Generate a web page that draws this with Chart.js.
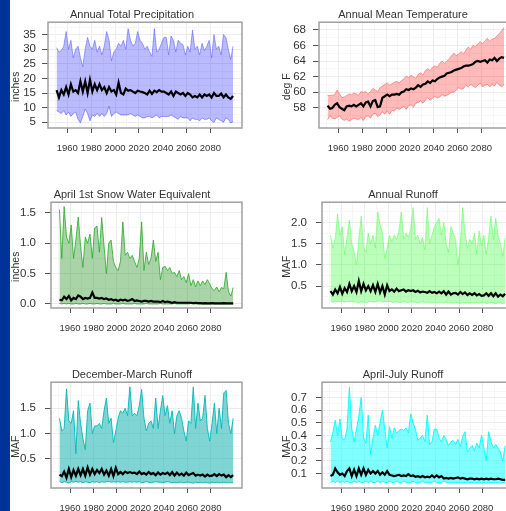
<!DOCTYPE html>
<html>
<head>
<meta charset="utf-8">
<title>Climate projections</title>
<script src="https://cdn.jsdelivr.net/npm/chart.js@4"></script>
<style>
	html, body { margin: 0; padding: 0; width: 506px; height: 511px; overflow: hidden; background: #fff; }
	#strip { position: absolute; left: 0; top: 0; width: 10px; height: 511px; background: #003399; }
	canvas { position: absolute; }
</style>
</head>
<body>
<div id="strip"></div>
<canvas id="precip" width="264" height="159" style="left:0;top:0"></canvas>
<canvas id="temp" width="264" height="159" style="left:271px;top:0"></canvas>
<canvas id="snow" width="264" height="159" style="left:0;top:180px"></canvas>
<canvas id="annual" width="264" height="159" style="left:271px;top:180px"></canvas>
<canvas id="decmar" width="264" height="159" style="left:0;top:360px"></canvas>
<canvas id="aprjul" width="264" height="159" style="left:271px;top:360px"></canvas>
<script>
const years = [
	1951,1953,1955,1957,1959,1961,1963,1965,1967,1969,1971,1973,1975,1977,1979,
	1981,1983,1985,1987,1989,1991,1993,1995,1997,1999,2001,2003,2005,2007,2009,
	2011,2013,2015,2017,2019,2021,2023,2025,2027,2029,2031,2033,2035,2037,2039,
	2041,2043,2045,2047,2049,2051,2053,2055,2057,2059,2061,2063,2065,2067,2069,
	2071,2073,2075,2077,2079,2081,2083,2085,2087,2089,2091,2093,2095,2097,2099
];
const xLabels = [1960,1980,2000,2020,2040,2060,2080];
const xMinor = [1950,1970,1990,2010,2030,2050,2070,2090];

// Annual Total Precipitation
const precipHigh = [
	30.5,29,29.5,31,36,30,33,27,30,31,27,24,30,34,31,
	30,33,29,31,28,31,36,33,26,29,30,32,31,33,30,
	37,33,31,32,36,33,32,30,31,29,27.5,37,29,30,32,
	34,34,28,34.5,33,29,33,32,31.5,28,31,29,36.5,30,31,
	28,32,29.5,31,33,27,35,30,31,28,35,34,30,26.5,31
];
const precipLow = [
	9,8.5,8,9,7.5,8.5,7,8,8.5,6,4.8,7,9.5,8,5.5,
	7.5,7,8,7,8,7,8,10.5,7,8,8.5,8,7.5,7.5,7.5,
	7.5,8,7.5,7,7.5,7,6.5,6.5,7,7,6.5,7,7.5,6.5,7,
	7,7,7,7.5,7,6.5,6,7,6.5,6.5,6.5,5.5,6.5,6,6,
	5.5,6.5,6,6,6.5,5.5,5,6.5,6,5.5,5,6.5,6,4.8,5.2
];
const precipMid = [
	16,13.5,16,14.5,17,14.5,18,15.5,16,15,19,15.5,19,15,19.5,
	15.5,18,16,18,16,17,15,17,15.5,16,14.5,18.5,15,14.5,16.5,
	15.8,16,15.5,15,15.8,15.5,15.3,15,14.5,15.8,14.7,15.8,15.3,16,15.5,
	15.5,15,14.5,15.5,14,15.5,15,14.5,15,14,15,14.5,13.5,14,13.5,
	14.5,13.5,14.5,14,14.5,13.5,15,14,14,14.8,13.5,14.5,13.5,13,14
];
const precipTicks = [5,10,15,20,25,30,35];
const precipMinor = [7.5,12.5,17.5,22.5,27.5,32.5,37.5];

// Annual Mean Temperature
const tempHigh = [
	59.6,59.6,59.6,59.7,60.3,59.8,59.3,59.4,59.6,59.8,59.7,59.9,59.8,59.6,60.1,
	60,60.1,59.8,60.1,60.5,60.3,60.1,60.6,60.8,61,61.2,60.9,61.1,61.3,61.4,
	61.2,61.5,61.7,62.1,61.9,62.2,62,61.8,62.3,62.5,62.2,62.8,63,62.8,63.2,
	63.4,63.2,63.7,64,63.7,64,64.3,64.7,65,64.7,64.9,65.2,64.9,65.4,65.8,
	65.5,66,65.8,66.2,66.5,66.2,66.6,66.9,66.5,66.8,66.9,67.2,67.5,67.9,68.3
];
const tempLow = [
	56.5,57,56.7,56.6,56.8,57,56.6,56.4,56.6,56.3,56.5,56.7,56.6,56.5,56.8,
	56.4,56.9,57,56.7,57.2,57.3,56.9,57.1,57.5,57.2,57.6,57.2,57.7,57.6,58,
	57.8,58,58.2,57.8,58.3,58.4,58.1,58.6,58.7,58.9,58.6,59,59.3,59,59.2,
	59.5,59.3,59.4,59.7,59.5,59.6,59.8,60,60,60.3,60.6,60.4,60.5,60.9,60.7,
	61,60.8,60.6,60.9,61.2,60.7,60.9,61,60.7,61,60.8,61.3,60.9,60.7,61
];
const tempMid = [
	58.3,57.9,58,58.4,58.6,58.1,57.9,57.7,58.2,58.3,58.2,58.4,58.2,58.4,58.6,
	58.2,58.7,58.8,58.2,58.9,59,58.1,58.2,59.3,59.5,59.7,59.5,59.7,59.7,59.8,
	59.7,60,60.1,60.4,60.3,60.5,60.4,60.6,60.9,60.7,61,61.1,61.4,61.2,61.5,
	61.4,61.7,61.9,62,62.1,62.4,62.5,62.6,62.8,62.9,63,63.1,63.3,63.4,63.4,
	63.5,63.6,63.9,64,63.9,64,64.1,63.8,64.2,64.1,64.4,64,64.3,64.5,64.4
];
const tempTicks = [58,60,62,64,66,68];
const tempMinor = [56,57,59,61,63,65,67];

// April 1st Snow Water Equivalent
const snowHigh = [
	1.55,0.75,1.6,1.1,1,1.3,0.75,1.05,1.43,0.95,0.6,1.1,1,1.15,0.75,
	1.25,1.28,0.85,1.42,0.95,0.5,1,1.05,0.7,0.6,0.55,0.7,1.35,0.8,0.85,
	0.75,0.8,0.7,0.6,0.75,1.35,0.55,0.85,0.65,0.75,1.05,0.7,0.85,0.4,0.6,
	0.62,0.55,0.6,0.5,0.52,0.45,0.55,0.4,0.45,0.35,0.5,0.3,0.4,0.28,0.38,
	0.3,0.38,0.32,0.4,0.33,0.25,0.22,0.28,0.2,0.27,0.25,0.52,0.2,0.13,0.27
];
const snowLow = [
	0.01,0,0.01,0,0.01,0,0,0.01,0,0,0.01,0,0,0.01,0,
	0,0.01,0,0,0.01,0,0,0,0.01,0,0,0,0.01,0,0,
	0,0,0.01,0,0,0,0,0.01,0,0,0,0,0,0.01,0,
	0,0,0,0,0.01,0,0,0,0,0,0,0.01,0,0,0,
	0,0,0,0,0,0.01,0,0,0,0,0,0,0,0,0
];
const snowMid = [
	0.07,0.06,0.12,0.08,0.13,0.06,0.1,0.08,0.14,0.12,0.08,0.1,0.09,0.1,0.19,
	0.1,0.1,0.09,0.1,0.08,0.09,0.07,0.08,0.06,0.07,0.05,0.07,0.06,0.07,0.05,
	0.06,0.08,0.05,0.06,0.05,0.04,0.05,0.05,0.04,0.05,0.04,0.04,0.04,0.03,0.05,
	0.03,0.04,0.03,0.02,0.03,0.02,0.02,0.02,0.02,0.02,0.02,0.02,0.015,0.02,0.015,
	0.015,0.01,0.015,0.01,0.01,0.015,0.01,0.01,0.01,0.01,0.015,0.01,0.01,0.01,0.01
];
const snowTicks = [0,0.5,1,1.5];
const snowMinor = [0.25,0.75,1.25];

// Annual Runoff
const annualHigh = [
	1.7,1.4,1.6,2.2,1.7,1.9,1.25,1.65,2.05,1.5,1.3,1,1.6,2.15,1.4,
	1.3,1.75,1.5,1.7,1.4,2.25,1.95,1.75,1.15,1.4,1.7,1.55,1.7,1.6,1.8,
	2.25,1.6,1.75,1.65,1.85,2.35,1.6,1.7,1.5,1.65,1.35,2.35,1.5,1.7,1.9,
	2,2.1,1.7,2,1.5,1.3,1.9,1.75,1.6,1,1.5,2.35,1.75,1.4,1.6,
	1.5,1.75,1.25,1.8,1.45,1.7,1.25,1.65,2.15,1.6,2.1,1.7,1.5,1.2,1.63
];
const annualLow = [
	0.14,0.12,0.14,0.13,0.13,0.15,0.12,0.14,0.13,0.14,0.12,0.13,0.1,0.13,0.12,
	0.11,0.13,0.14,0.12,0.13,0.14,0.15,0.12,0.14,0.13,0.14,0.12,0.12,0.13,0.11,
	0.12,0.13,0.12,0.11,0.13,0.12,0.12,0.11,0.12,0.13,0.11,0.12,0.12,0.11,0.12,
	0.11,0.12,0.12,0.11,0.12,0.11,0.12,0.1,0.12,0.11,0.09,0.11,0.1,0.11,0.1,
	0.11,0.1,0.11,0.1,0.1,0.11,0.09,0.1,0.11,0.1,0.09,0.1,0.1,0.09,0.1
];
const annualMid = [
	0.38,0.3,0.42,0.33,0.48,0.32,0.45,0.36,0.55,0.38,0.5,0.36,0.62,0.38,0.55,
	0.4,0.5,0.38,0.52,0.36,0.55,0.35,0.5,0.3,0.52,0.38,0.42,0.37,0.44,0.38,
	0.4,0.42,0.37,0.4,0.38,0.4,0.36,0.39,0.35,0.37,0.36,0.34,0.38,0.34,0.36,
	0.33,0.37,0.33,0.38,0.3,0.37,0.3,0.33,0.34,0.3,0.36,0.31,0.35,0.29,0.33,
	0.29,0.33,0.28,0.31,0.27,0.28,0.33,0.27,0.33,0.26,0.33,0.25,0.3,0.26,0.32
];
const annualTicks = [0.5,1,1.5,2];
const annualMinor = [0.25,0.75,1.25,1.75,2.25];

// December-March Runoff
const decmarHigh = [
	1.3,1.05,1.1,1.88,1.25,1.2,1.45,0.6,1.65,1.2,0.9,0.68,1.45,1.6,1,
	1.15,1.15,1.2,1.1,1.45,1.7,1.2,1.3,0.82,1.05,1.3,1.45,1.4,1.5,1.35,
	1.92,1.35,1.4,1.35,1.55,1.87,1.3,1.05,1.2,1.25,1.1,1.7,1.1,1.45,1.75,
	1.35,1.55,1.2,1.45,1,1.35,1.45,1.3,1.05,0.85,1.25,1.2,1.92,1.1,1.6,
	1.25,1.3,1.75,1.1,0.85,1.2,1.6,1,1.5,1.1,1.8,1.85,1.2,1,1.3
];
const decmarLow = [
	0.06,0.03,0.05,0.04,0.02,0.05,0.04,0.06,0.04,0.05,0.03,0.05,0.04,0.03,0.05,
	0.04,0.05,0.03,0.05,0.04,0.05,0.06,0.04,0.05,0.04,0.05,0.04,0.05,0.04,0.04,
	0.05,0.04,0.05,0.04,0.05,0.03,0.04,0.05,0.04,0.03,0.04,0.05,0.04,0.04,0.03,
	0.04,0.05,0.04,0.03,0.04,0.03,0.04,0.04,0.03,0.04,0.04,0.03,0.02,0.04,0.03,
	0.04,0.03,0.04,0.03,0.02,0.04,0.03,0.04,0.03,0.03,0.04,0.03,0.03,0.03,0.03
];
const decmarMid = [
	0.19,0.16,0.25,0.13,0.3,0.14,0.28,0.17,0.3,0.18,0.3,0.17,0.33,0.19,0.3,
	0.2,0.28,0.22,0.3,0.19,0.27,0.17,0.3,0.16,0.32,0.2,0.24,0.2,0.25,0.22,
	0.24,0.22,0.23,0.2,0.25,0.2,0.22,0.19,0.24,0.2,0.22,0.18,0.23,0.19,0.22,
	0.2,0.23,0.18,0.24,0.17,0.23,0.18,0.21,0.17,0.23,0.18,0.2,0.22,0.17,0.19,
	0.17,0.19,0.15,0.19,0.16,0.17,0.2,0.16,0.2,0.17,0.19,0.14,0.18,0.14,0.18
];
const decmarTicks = [0.5,1,1.5];
const decmarMinor = [0.25,0.75,1.25,1.75,2];

// April-July Runoff
const aprjulHigh = [
	0.35,0.42,0.52,0.4,0.53,0.37,0.37,0.45,0.78,0.45,0.35,0.45,0.55,0.7,0.38,
	0.34,0.56,0.25,0.38,0.48,0.4,0.5,0.6,0.45,0.3,0.47,0.38,0.46,0.42,0.44,
	0.45,0.44,0.46,0.42,0.57,0.5,0.45,0.36,0.38,0.4,0.35,0.56,0.33,0.35,0.45,
	0.45,0.38,0.35,0.4,0.37,0.32,0.35,0.36,0.33,0.37,0.31,0.39,0.43,0.27,0.3,
	0.32,0.28,0.34,0.3,0.4,0.3,0.2,0.43,0.35,0.3,0.33,0.3,0.27,0.2,0.32
];
const aprjulLow = [
	0.03,0.04,0.03,0.04,0.03,0.04,0.03,0.04,0.03,0.03,0.04,0.03,0.04,0.03,0.03,
	0.04,0.03,0.04,0.03,0.03,0.04,0.03,0.04,0.03,0.03,0.04,0.03,0.03,0.04,0.03,
	0.03,0.04,0.03,0.03,0.03,0.04,0.03,0.03,0.03,0.04,0.03,0.03,0.03,0.03,0.04,
	0.03,0.03,0.03,0.04,0.03,0.03,0.03,0.03,0.03,0.03,0.03,0.025,0.03,0.03,0.03,
	0.03,0.025,0.03,0.03,0.025,0.03,0.025,0.03,0.03,0.025,0.03,0.03,0.025,0.03,0.03
];
const aprjulMid = [
	0.08,0.09,0.14,0.11,0.09,0.1,0.08,0.12,0.14,0.08,0.13,0.08,0.14,0.09,0.14,
	0.09,0.13,0.1,0.12,0.1,0.12,0.09,0.11,0.09,0.12,0.09,0.085,0.08,0.085,0.09,
	0.08,0.085,0.08,0.095,0.08,0.085,0.075,0.08,0.07,0.08,0.07,0.075,0.07,0.085,0.07,
	0.085,0.07,0.08,0.06,0.065,0.06,0.065,0.06,0.065,0.07,0.06,0.065,0.06,0.055,0.06,
	0.06,0.055,0.06,0.055,0.06,0.055,0.06,0.055,0.06,0.055,0.055,0.06,0.055,0.05,0.05
];
const aprjulTicks = [0.1,0.2,0.3,0.4,0.5,0.6,0.7];
const aprjulMinor = [0.05,0.15,0.25,0.35,0.45,0.55,0.65,0.75];

const FONT = 'Liberation Sans, Arial, sans-serif';
const TEXT = '#333333';

// grey box round the plot area
const frame = {
	id: 'frame',
	afterLayout(chart) {
		// the title sits centred on the canvas, not on the box
		chart.titleBlock.left = chart.width - chart.chartArea.right;
	},
	afterDraw(chart) {
		const a = chart.chartArea;
		const ctx = chart.ctx;
		ctx.save();
		ctx.strokeStyle = '#a0a0a0';
		ctx.lineWidth = 1.5;
		ctx.strokeRect(a.left, a.top, a.right - a.left, a.bottom - a.top);
		ctx.restore();
	}
};

function points(values) {
	return values.map((v, i) => ({ x: years[i], y: v }));
}

function panel(id, p) {
	return new Chart(document.getElementById(id), {
		type: 'line',
		plugins: [frame],
		data: {
			datasets: [
				{
					// first dataset is painted on top
					data: points(p.mid),
					borderColor: '#000000',
					borderWidth: 2.2,
					pointRadius: 0,
					fill: false
				},
				{
					data: points(p.high),
					borderColor: p.line,
					backgroundColor: p.fill,
					borderWidth: 1,
					pointRadius: 0,
					fill: '+1'
				},
				{
					data: points(p.low),
					borderColor: p.line,
					borderWidth: 1,
					pointRadius: 0,
					fill: false
				}
			]
		},
		options: {
			responsive: false,
			animation: false,
			devicePixelRatio: 1,
			layout: { padding: { right: p.right } },
			plugins: {
				legend: { display: false },
				tooltip: { enabled: false },
				title: {
					display: true,
					text: p.title,
					color: TEXT,
					font: { family: FONT, size: 11, weight: 'normal' },
					padding: { top: 8, bottom: 1 }
				}
			},
			scales: {
				x: {
					type: 'linear',
					min: 1943.8,
					max: 2106.5,
					afterFit(s) { s.height = 31; },
					afterBuildTicks(s) {
						s.ticks = xLabels.concat(xMinor).map(v => ({ value: v }));
					},
					grid: {
						tickLength: 5,
						color: c => xLabels.includes(c.tick.value) ? '#ececec' : '#f6f6f6',
						tickColor: c => xLabels.includes(c.tick.value) ? '#555555' : 'rgba(0,0,0,0)'
					},
					border: { display: false },
					ticks: {
						autoSkip: false,
						maxRotation: 0,
						padding: 10,
						color: TEXT,
						font: { family: FONT, size: 9.5 },
						callback: v => xLabels.includes(v) ? String(v) : ''
					}
				},
				y: {
					min: p.min,
					max: p.max,
					afterFit(s) { s.width = p.yWidth; },
					afterBuildTicks(s) {
						s.ticks = p.ticks.concat(p.minor).map(v => ({ value: v }));
					},
					grid: {
						tickLength: 6,
						color: c => p.ticks.includes(c.tick.value) ? '#ececec' : '#f6f6f6',
						tickColor: c => p.ticks.includes(c.tick.value) ? '#555555' : 'rgba(0,0,0,0)'
					},
					border: { display: false },
					title: {
						display: true,
						// trailing blanks push the label below the axis centre
						text: p.yTitle + '\u00a0'.repeat(8),
						color: TEXT,
						font: { family: FONT, size: 10.5 },
						padding: { top: 10, bottom: 0 }
					},
					ticks: {
						autoSkip: false,
						padding: p.tickGap,
						color: TEXT,
						font: { family: FONT, size: 11.5 },
						callback: v => p.ticks.includes(v) ? p.format(v) : ''
					}
				}
			}
		}
	});
}

const whole = v => String(v);
const oneDecimal = v => v.toFixed(1);

panel('precip', {
	title: 'Annual Total Precipitation', yTitle: 'inches',
	high: precipHigh, low: precipLow, mid: precipMid,
	ticks: precipTicks, minor: precipMinor, format: whole,
	min: 3.05, max: 39.2, yWidth: 48, right: 22, tickGap: 6,
	line: 'rgba(90,90,255,0.55)', fill: 'rgba(0,0,255,0.27)'
});
panel('temp', {
	title: 'Annual Mean Temperature', yTitle: 'deg F',
	high: tempHigh, low: tempLow, mid: tempMid,
	ticks: tempTicks, minor: tempMinor, format: whole,
	min: 55.44, max: 68.96, yWidth: 48, right: 22, tickGap: 7,
	line: 'rgba(255,100,100,0.6)', fill: 'rgba(255,0,0,0.27)'
});
panel('snow', {
	title: 'April 1st Snow Water Equivalent', yTitle: 'inches',
	high: snowHigh, low: snowLow, mid: snowMid,
	ticks: snowTicks, minor: snowMinor, format: oneDecimal,
	min: -0.066, max: 1.673, yWidth: 51, right: 22, tickGap: 9,
	line: 'rgba(40,170,40,0.8)', fill: 'rgba(0,128,0,0.34)'
});
panel('annual', {
	title: 'Annual Runoff', yTitle: 'MAF',
	high: annualHigh, low: annualLow, mid: annualMid,
	ticks: annualTicks, minor: annualMinor, format: oneDecimal,
	min: -0.017, max: 2.476, yWidth: 51, right: 21, tickGap: 9,
	line: 'rgba(80,255,80,0.5)', fill: 'rgba(0,255,0,0.27)'
});
panel('decmar', {
	title: 'December-March Runoff', yTitle: 'MAF',
	high: decmarHigh, low: decmarLow, mid: decmarMid,
	ticks: decmarTicks, minor: decmarMinor, format: oneDecimal,
	min: -0.074, max: 2.012, yWidth: 51, right: 22, tickGap: 9,
	line: 'rgba(0,185,185,0.9)', fill: 'rgba(0,170,170,0.5)'
});
panel('aprjul', {
	title: 'April-July Runoff', yTitle: 'MAF',
	high: aprjulHigh, low: aprjulLow, mid: aprjulMid,
	ticks: aprjulTicks, minor: aprjulMinor, format: oneDecimal,
	min: -0.014, max: 0.82, yWidth: 51, right: 21, tickGap: 9,
	line: 'rgba(0,255,255,0.9)', fill: 'rgba(0,255,255,0.5)'
});
</script>
</body>
</html>
